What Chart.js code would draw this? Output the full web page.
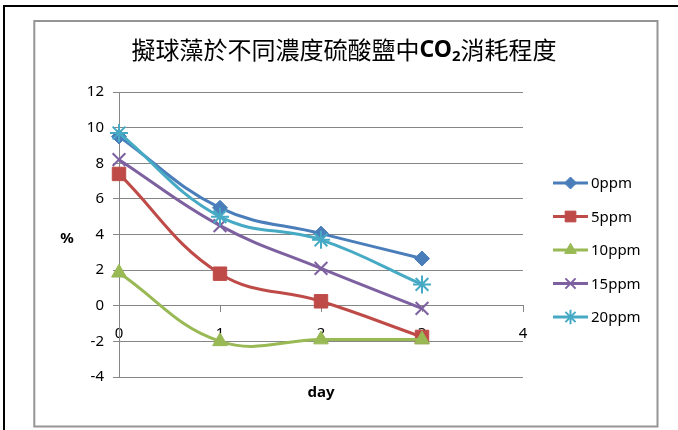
<!DOCTYPE html>
<html>
<head>
<meta charset="utf-8">
<script src="https://cdn.jsdelivr.net/npm/chart.js@4.4.0/dist/chart.umd.min.js"></script>
<style>
html, body { margin: 0; padding: 0; background: #fff; }
</style>
</head>
<body>
<canvas id="grafico" width="678" height="430"></canvas>
<script>
// Dados (% de CO2 por dia)
const dias = [0, 1, 2, 3];
const nomes = ["0ppm", "5ppm", "10ppm", "15ppm", "20ppm"];
const ppm0 = [9.5, 5.5, 4.05, 2.65];
const ppm5 = [7.4, 1.8, 0.25, -1.75];
const ppm10 = [1.85, -2.0, -1.9, -1.9];
const ppm15 = [8.2, 4.5, 2.1, -0.15];
const ppm20 = [9.7, 5.0, 3.7, 1.2];
const xTicks = [0, 1, 2, 3, 4];
const yTicks = [-4, -2, 0, 2, 4, 6, 8, 10, 12];

// Estilo de cada série
const cores = ["#4A7EBB", "#BE4B48", "#98B954", "#7D60A0", "#46AAC5"];
const marcadores = ["rectRot", "rect", "triangle", "crossRot", "star"];
const raios = [7.5, 9.5, 8.5, 9, 9];
const fonte = "'Noto Sans', sans-serif";
const cinza = "#868686";

const valores = [ppm0, ppm5, ppm10, ppm15, ppm20];

const datasets = valores.map((serie, i) => ({
	label: nomes[i],
	data: serie.map((v, k) => ({ x: dias[k], y: v })),
	showLine: true,
	tension: 0.4,
	borderColor: cores[i],
	backgroundColor: cores[i],
	borderWidth: 3,
	pointStyle: marcadores[i],
	pointRadius: raios[i],
	pointBorderWidth: i >= 3 ? 2 : 1,
	pointBackgroundColor: cores[i],
	pointBorderColor: cores[i],
	order: 5 - i,
	clip: false,
}));

// Molduras, título, rótulos dos eixos e legenda
const extras = {
	id: "extras",
	beforeDraw(chart) {
		const ctx = chart.ctx;
		ctx.save();
		ctx.fillStyle = "#fff";
		ctx.fillRect(0, 0, chart.width, chart.height);
		ctx.lineWidth = 2;
		ctx.strokeStyle = "#000";
		ctx.strokeRect(4, 6, 720, 480);
		ctx.strokeStyle = "#959595";
		ctx.strokeRect(34.3, 21, 623.2, 405.5);
		ctx.restore();
	},
	afterDraw(chart) {
		const ctx = chart.ctx;
		const area = chart.chartArea;
		ctx.save();

		// título com subscrito
		const partes = [
			{ t: "擬球藻於不同濃度硫酸鹽中", f: "24px 'Noto Sans CJK TC'", dy: 0 },
			{ t: "CO", f: "bold 23px " + fonte, dy: 0 },
			{ t: "2", f: "bold 15px " + fonte, dy: 7 },
			{ t: "消耗程度", f: "24px 'Noto Sans CJK TC'", dy: 0 },
		];
		let total = 0;
		partes.forEach((p) => {
			ctx.font = p.f;
			p.w = ctx.measureText(p.t).width;
			total += p.w;
		});
		let x = 344 - total / 2;
		ctx.fillStyle = "#000";
		ctx.textBaseline = "middle";
		partes.forEach((p) => {
			ctx.font = p.f;
			ctx.fillText(p.t, x, 50 + p.dy);
			x += p.w;
		});

		// rótulos dos eixos
		ctx.font = "bold 15px " + fonte;
		ctx.textAlign = "center";
		ctx.fillText("%", 67, 239);
		ctx.fillText("day", (area.left + area.right) / 2, 393);

		// legenda
		ctx.textAlign = "left";
		ctx.font = "15px " + fonte;
		chart.data.datasets.forEach((ds, i) => {
			const y = 183 + i * 33.5;
			ctx.strokeStyle = ds.borderColor;
			ctx.lineWidth = 3;
			ctx.beginPath();
			ctx.moveTo(553, y);
			ctx.lineTo(588, y);
			ctx.stroke();
			ctx.fillStyle = ds.pointBackgroundColor;
			ctx.strokeStyle = ds.pointBorderColor;
			ctx.lineWidth = ds.pointBorderWidth;
			Chart.helpers.drawPoint(ctx, {
				pointStyle: ds.pointStyle,
				rotation: 0,
				radius: ds.pointRadius * 0.8,
				borderWidth: ds.pointBorderWidth,
			}, 570.5, y);
			ctx.fillStyle = "#000";
			ctx.fillText(ds.label, 591, y + 1);
		});
		ctx.restore();
	},
};

const grafico = new Chart(document.getElementById("grafico"), {
	type: "scatter",
	data: { datasets: datasets },
	options: {
		responsive: false,
		animation: false,
		events: [],
		layout: { padding: { left: 0, top: 92, right: 155, bottom: 53 } },
		plugins: {
			legend: { display: false },
			title: { display: false },
			tooltip: { enabled: false },
		},
		scales: {
			x: {
				type: "linear",
				position: { y: 0 },
				min: 0,
				max: 4,
				afterBuildTicks: (s) => {
					s.ticks = xTicks.map((v) => ({ value: v }));
				},
				grid: { drawOnChartArea: false, drawTicks: true, tickLength: 6, color: cinza },
				border: { color: cinza, width: 1 },
				ticks: { padding: 13, color: "#000", font: { family: fonte, size: 15 } },
			},
			y: {
				min: -4,
				max: 12,
				afterBuildTicks: (s) => {
					s.ticks = yTicks.map((v) => ({ value: v }));
				},
				afterFit: (s) => {
					s.width = 119;
				},
				grid: { color: cinza, tickLength: 6 },
				border: { color: cinza, width: 1 },
				ticks: { padding: 9, color: "#000", font: { family: fonte, size: 15 } },
			},
		},
	},
	plugins: [extras],
});
</script>
</body>
</html>
